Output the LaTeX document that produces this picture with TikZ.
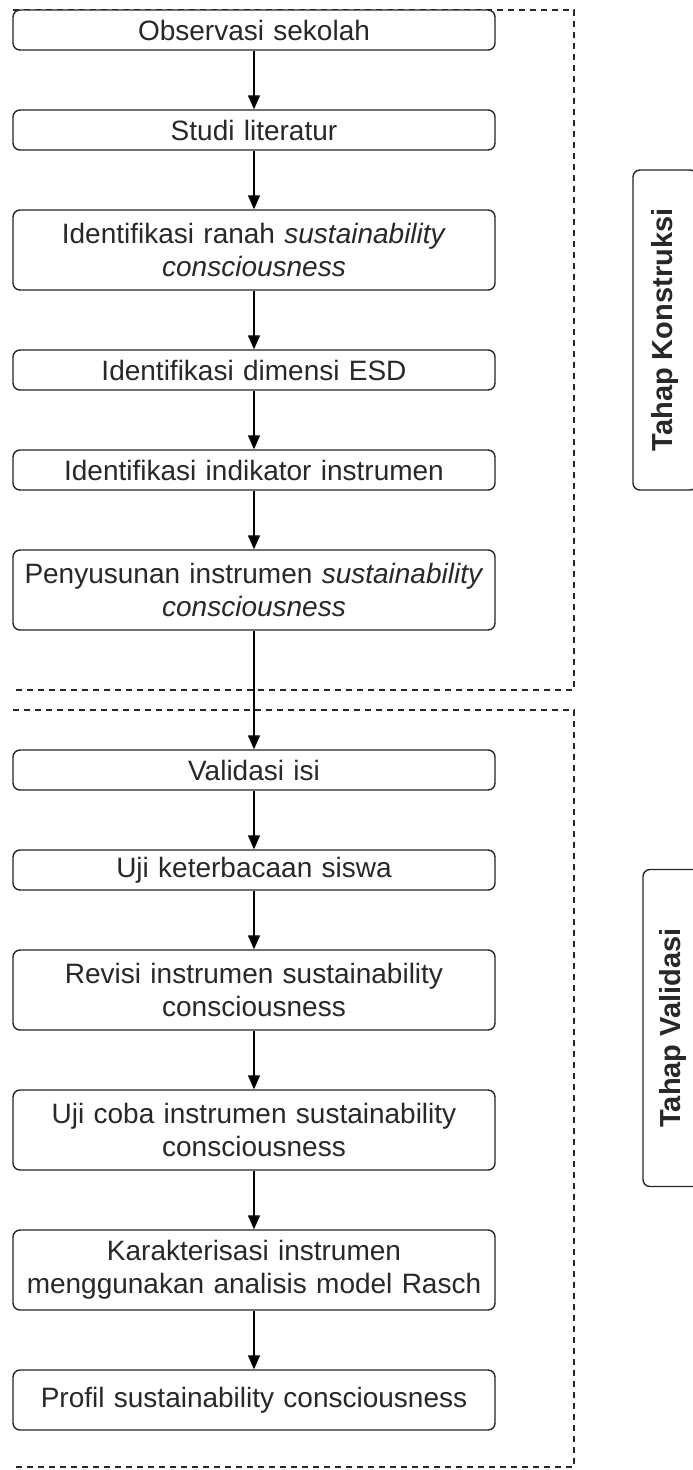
\documentclass[tikz,border=0pt]{standalone}
\usepackage{fontspec}
\setmainfont{Liberation Sans}
\usetikzlibrary{arrows.meta}
\definecolor{txt}{RGB}{40,40,40}
\begin{document}
\begin{tikzpicture}[x=1pt,y=-1pt,
  box/.style={draw=black!85, line width=1.4pt, rounded corners=7pt, fill=white,
    minimum width=482pt, text width=470pt, align=center, inner sep=0pt,
    font=\fontsize{28}{33}\selectfont, text=txt},
  side/.style={draw=black!85, line width=1.4pt, rounded corners=7pt, fill=white,
    rotate=90, inner sep=0pt, font=\fontsize{29}{33}\selectfont\bfseries, text=txt},
  arr/.style={line width=1.4pt, -{Triangle[width=12pt,length=14pt]}},
  frame/.style={line width=1.3pt, dash pattern=on 6pt off 5pt, black!85}]
\useasboundingbox (0,0) rectangle (693,1470);
% dashed frames
\coordinate (f1a) at (13,10); \coordinate (f1b) at (574,10);
\coordinate (f1c) at (574,690); \coordinate (f1d) at (13,690);
\draw[frame] (f1a) -- (f1b) -- (f1c) -- (f1d);
\coordinate (f2a) at (13,710); \coordinate (f2b) at (574,710);
\coordinate (f2c) at (574,1467); \coordinate (f2d) at (13,1467);
\draw[frame] (f2a) -- (f2b) -- (f2c) -- (f2d);
% boxes
\node[box, minimum height=40pt] (b1) at (254,30) {Observasi sekolah};
\node[box, minimum height=40pt] (b2) at (254,130) {Studi literatur};
\node[box, minimum height=80pt] (b3) at (254,250) {Identifikasi ranah \textit{sustainability}\\\textit{consciousness}};
\node[box, minimum height=40pt] (b4) at (254,370) {Identifikasi dimensi ESD};
\node[box, minimum height=40pt] (b5) at (254,470) {Identifikasi indikator instrumen};
\node[box, minimum height=80pt] (b6) at (254,590) {Penyusunan instrumen \textit{sustainability}\\\textit{consciousness}};
\node[box, minimum height=40pt] (b7) at (254,770) {Validasi isi};
\node[box, minimum height=40pt] (b8) at (254,870) {Uji keterbacaan siswa};
\node[box, minimum height=80pt] (b9) at (254,990) {Revisi instrumen sustainability\\consciousness};
\node[box, minimum height=80pt] (b10) at (254,1130) {Uji coba instrumen sustainability\\consciousness};
\node[box, minimum height=80pt] (b11) at (254,1270) {Karakterisasi instrumen\\menggunakan analisis model Rasch};
\node[box, minimum height=60pt] (b12) at (254,1400) {Profil sustainability consciousness};
% side labels
\node[side, minimum width=320pt, minimum height=64pt] (s1) at (665,330) {Tahap Konstruksi};
\node[side, minimum width=317pt, minimum height=60pt] (s2) at (673,1028) {Tahap Validasi};
% arrows
\draw[arr] (b1) -- (b2);
\draw[arr] (b2) -- (b3);
\draw[arr] (b3) -- (b4);
\draw[arr] (b4) -- (b5);
\draw[arr] (b5) -- (b6);
\draw[arr] (b6) -- (b7);
\draw[arr] (b7) -- (b8);
\draw[arr] (b8) -- (b9);
\draw[arr] (b9) -- (b10);
\draw[arr] (b10) -- (b11);
\draw[arr] (b11) -- (b12);
\end{tikzpicture}
\end{document}
